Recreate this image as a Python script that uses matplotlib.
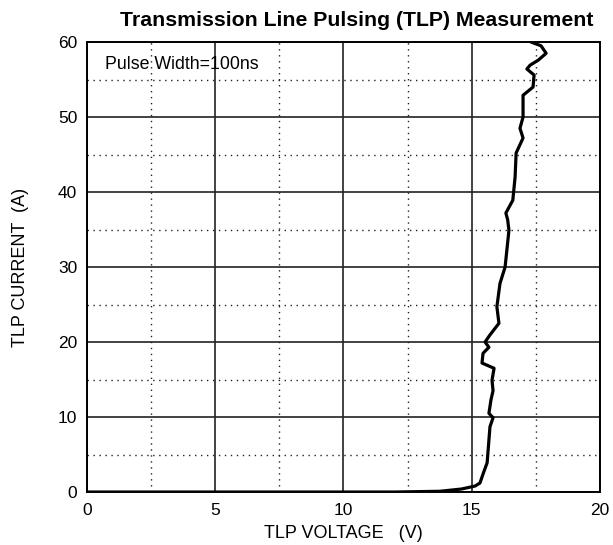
import matplotlib
matplotlib.use("Agg")
import matplotlib.pyplot as plt
from matplotlib.ticker import MultipleLocator

plt.rcParams["font.family"] = ["Liberation Sans", "DejaVu Sans"]

# TLP curve (voltage in V, current in A)
tlp_voltage = [0.0, 12.0, 13.76, 14.6, 15.13, 15.32, 15.45, 15.6, 15.71, 15.83, 15.67,
               15.75, 15.83, 15.79, 15.87, 15.4, 15.44, 15.67, 15.52, 15.7, 16.06,
               15.98, 16.1, 16.3, 16.45, 16.4, 16.33, 16.6, 16.69, 16.73, 17.0,
               16.88, 17.0, 17.0, 17.39, 17.43, 17.15, 17.27, 17.6, 17.9, 17.7, 17.31]
tlp_current = [0.0, 0.0, 0.1, 0.4, 0.8, 1.2, 2.5, 3.9, 8.7, 9.9, 10.5,
               12.3, 13.5, 14.9, 16.5, 17.2, 18.5, 19.3, 20.0, 20.9, 22.5,
               24.7, 27.8, 30.0, 34.9, 36.3, 37.2, 38.9, 42.0, 45.2, 47.2,
               48.5, 50.0, 52.9, 54.0, 55.6, 56.4, 56.9, 57.6, 58.5, 59.5, 60.0]

x_ticks = [0, 5, 10, 15, 20]
y_ticks = [0, 10, 20, 30, 40, 50, 60]

fig = plt.figure(figsize=(6.13, 5.45), dpi=100)
ax = fig.add_axes([0.1419, 0.0972, 0.8369, 0.8257])

ax.plot(tlp_voltage, tlp_current, color="black", linewidth=2.3, zorder=3,
        solid_joinstyle="round", solid_capstyle="round")

ax.set_xlim(0, 20)
ax.set_ylim(0, 60)
ax.set_xticks(x_ticks)
ax.set_yticks(y_ticks)
ax.xaxis.set_minor_locator(MultipleLocator(2.5))
ax.yaxis.set_minor_locator(MultipleLocator(5))
ax.grid(which="major", color="#222222", linestyle="-", linewidth=1.2)
ax.grid(which="minor", color="#222222", linestyle=(0, (1, 3.3)), linewidth=1.0)
ax.tick_params(which="both", length=0, labelsize=12.5)
ax.tick_params(axis="x", pad=8)
ax.tick_params(axis="y", pad=7)

for spine in ax.spines.values():
    spine.set_linewidth(1.4)
    spine.set_color("black")

fig.text(357 / 613, 1 - 20 / 545, "Transmission Line Pulsing (TLP) Measurement",
         fontsize=15.3, fontweight="bold", ha="center", va="center")
ax.set_xlabel("TLP VOLTAGE   (V)", fontsize=13, labelpad=5)
ax.set_ylabel("TLP CURRENT  (A)", fontsize=13, labelpad=21)
ax.text(0.7, 57.0, "Pulse Width=100ns", fontsize=12.8, va="center", ha="left",
        zorder=4)

fig.savefig("out.png", dpi=100)
